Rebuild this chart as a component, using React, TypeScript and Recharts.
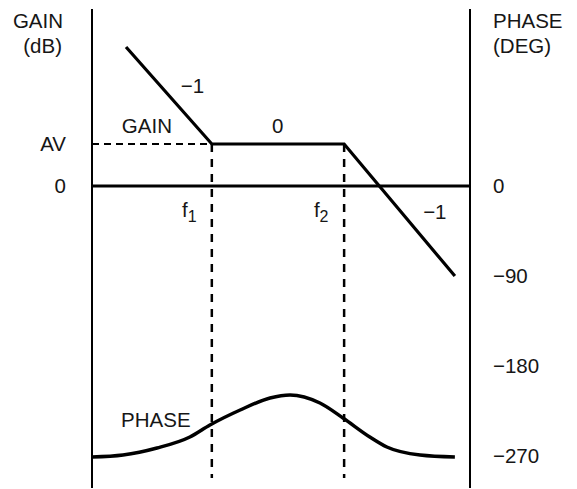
import React from 'react';
import { ComposedChart, Line, XAxis, YAxis, ReferenceLine, ReferenceDot } from 'recharts';

// frequency axis in decades (arbitrary log-frequency units)
const AV = 20; // dB
const F1 = 3.17;
const F2 = 6.67;

const gainFreq = [0.9, F1, F2, 9.6];
const gainDb = [66.2, AV, AV, -42.9];

const phaseFreq = [0, 0.82, 1.72, 2.59, 3.12, 3.92, 4.71, 5.24, 6.03, 6.64, 7.35, 7.8, 8.68, 9.6];
const phaseDeg = [-271, -269, -262, -251, -239, -224, -212, -209, -217, -232, -251, -261, -269, -271];

const gainTicks = [0, AV];
const phaseTicks = [0, -90, -180, -270];

const gainData = gainFreq.map((f, i) => ({ f, gain: gainDb[i] }));
const phaseData = phaseFreq.map((f, i) => ({ f, phase: phaseDeg[i] }));

const INK = '#161616';
const FONT = '"Liberation Sans", Arial, Helvetica, sans-serif';
const FS = 20.5;

type Line_ = { text: React.ReactNode; dx: number; dy: number };

const textContent = (lines: Line_[], anchor: 'start' | 'end' | 'middle') => (props: any) => {
  const vb = props.viewBox || { x: 0, y: 0, width: 0, height: 0 };
  const cx = vb.x + (vb.width || 0) / 2;
  const cy = vb.y + (vb.height || 0) / 2;
  return (
    <g>
      {lines.map((l, i) => (
        <text key={i} x={cx + l.dx} y={cy + l.dy} textAnchor={anchor} fill={INK} fontSize={FS} fontFamily={FONT}>
          {l.text}
        </text>
      ))}
    </g>
  );
};

const annot = (key: string, x: number, y: number, lines: Line_[], anchor: 'start' | 'end' | 'middle' = 'start') => (
  <ReferenceDot
    key={key}
    yAxisId="phase"
    x={x}
    y={y}
    r={1}
    fill="none"
    stroke="none"
    ifOverflow="visible"
    label={{ content: textContent(lines, anchor) } as any}
  />
);

const fmtPhase = (v: number) => (v === 0 ? '0' : '\u2212' + Math.abs(v));
const fmtGain = (v: number) => (v === AV ? 'AV' : '0');

export default function App() {
  return (
    <div style={{ position: 'absolute', left: 0, top: 0 }}>
      <ComposedChart width={577} height={489} margin={{ top: 9, right: 47, bottom: 1, left: 32 }}>
        <XAxis xAxisId={0} type="number" dataKey="f" domain={[0, 10]} hide />
        <YAxis
          yAxisId="gain"
          orientation="left"
          width={60}
          type="number"
          domain={[-143.81, 84.29]}
          ticks={gainTicks}
          tickFormatter={fmtGain}
          axisLine={{ stroke: '#000', strokeWidth: 2 }}
          tickLine={false}
          tickSize={0}
          tickMargin={26}
          tick={{ fill: INK, fontSize: FS, fontFamily: FONT }}
        />
        <YAxis
          yAxisId="phase"
          orientation="right"
          width={60}
          type="number"
          domain={[-302, 177]}
          ticks={phaseTicks}
          tickFormatter={fmtPhase}
          axisLine={{ stroke: '#000', strokeWidth: 2 }}
          tickLine={false}
          tickSize={0}
          tickMargin={23}
          tick={{ fill: INK, fontSize: FS, fontFamily: FONT, textAnchor: 'start' } as any}
        />
        <ReferenceLine yAxisId="gain" y={0} stroke="#000" strokeWidth={3} />
        <ReferenceLine
          yAxisId="gain"
          segment={[{ x: 0, y: AV }, { x: F1, y: AV }]}
          stroke="#000"
          strokeWidth={2}
          strokeDasharray="7 5"
        />
        <ReferenceLine
          yAxisId="gain"
          segment={[{ x: F1, y: AV }, { x: F1, y: -139 }]}
          stroke="#000"
          strokeWidth={2.5}
          strokeDasharray="8 7"
        />
        <ReferenceLine
          yAxisId="gain"
          segment={[{ x: F2, y: AV }, { x: F2, y: -139 }]}
          stroke="#000"
          strokeWidth={2.5}
          strokeDasharray="8 7"
        />
        <Line
          yAxisId="gain"
          data={gainData}
          dataKey="gain"
          type="linear"
          stroke="#000"
          strokeWidth={3.2}
          dot={false}
          activeDot={false}
          isAnimationActive={false}
        />
        <Line
          yAxisId="phase"
          data={phaseData}
          dataKey="phase"
          type="monotone"
          stroke="#000"
          strokeWidth={3.5}
          dot={false}
          activeDot={false}
          isAnimationActive={false}
        />
        {annot('tl', 0, 177, [
          { text: 'GAIN', dx: -29, dy: 19 },
          { text: '(dB)', dx: -30, dy: 44 },
        ], 'end')}
        {annot('tr', 10, 177, [
          { text: 'PHASE', dx: 23, dy: 19 },
          { text: '(DEG)', dx: 23, dy: 44 },
        ], 'start')}
        {annot('m1a', 2.35, 93, [{ text: '\u22121', dx: 0, dy: 0 }])}
        {annot('gainLbl', 0.79, 53, [{ text: 'GAIN', dx: 0, dy: 0 }])}
        {annot('zeroLbl', 4.76, 53, [{ text: '0', dx: 0, dy: 0 }])}
        {annot('f1', 2.38, -31, [
          { text: <>f<tspan dy={5} fontSize={16}>1</tspan></>, dx: 0, dy: 0 },
        ])}
        {annot('f2', 5.87, -31, [
          { text: <>f<tspan dy={5} fontSize={16}>2</tspan></>, dx: 0, dy: 0 },
        ])}
        {annot('m1b', 8.76, -33, [{ text: '\u22121', dx: 0, dy: 0 }])}
        {annot('phaseLbl', 0.77, -241, [{ text: 'PHASE', dx: 0, dy: 0 }])}
      </ComposedChart>
    </div>
  );
}
